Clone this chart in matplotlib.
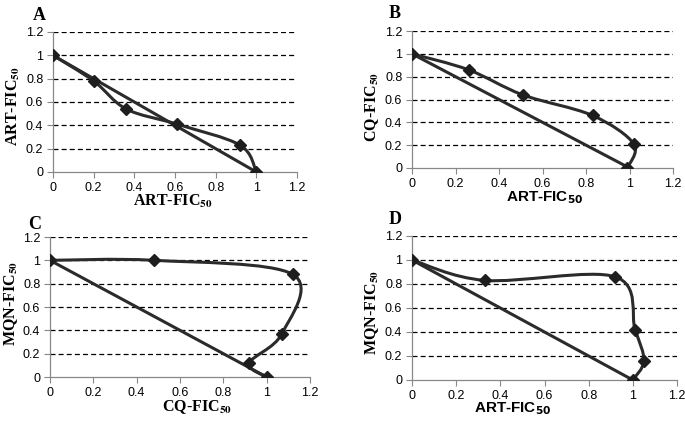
import matplotlib
matplotlib.use("Agg")
import matplotlib.pyplot as plt
import numpy as np
from matplotlib.path import Path
from matplotlib.patches import PathPatch

# isobologram data
a_x = [0, 0.2, 0.36, 0.61, 0.92, 1.0]
a_y = [1, 0.78, 0.54, 0.41, 0.23, 0.0]
b_x = [0, 0.26, 0.51, 0.83, 1.02, 0.99]
b_y = [1, 0.86, 0.64, 0.46, 0.21, 0.0]
c_x = [0, 0.48, 1.12, 1.07, 0.92, 1.0]
c_y = [1, 1.0, 0.88, 0.37, 0.12, 0.0]
d_x = [0, 0.33, 0.92, 1.01, 1.05, 1.0]
d_y = [1, 0.83, 0.86, 0.42, 0.16, 0.0]
additive_x = [0, 1]
additive_y = [1, 0]
ticks = [0, 0.2, 0.4, 0.6, 0.8, 1, 1.2]
tick_labels = ["0", "0.2", "0.4", "0.6", "0.8", "1", "1.2"]

W, H = 685, 422
LINE = "#2b2b2b"


def box(l, r, t, b):
    return [l / W, 1 - b / H, (r - l) / W, (b - t) / H]


def smooth_path(xs, ys):
    # Excel-style smoothed line: cubic Bezier through each point
    p = np.column_stack([xs, ys]).astype(float)
    n = len(p)
    verts = [p[0]]
    codes = [Path.MOVETO]
    for i in range(n - 1):
        p0 = p[i - 1] if i > 0 else p[i]
        p3 = p[i + 2] if i + 2 < n else p[i + 1]
        c1 = p[i] + (p[i + 1] - p0) / 6
        c2 = p[i + 1] - (p3 - p[i]) / 6
        verts += [c1, c2, p[i + 1]]
        codes += [Path.CURVE4] * 3
    return Path(verts, codes)


def panel(rect, xs, ys, letter, lpos, xlabel, xpos, xsans, ylabel, ypos):
    ax = fig.add_axes(rect)
    ax.set_xlim(0, 1.2)
    ax.set_ylim(0, 1.2)
    for yv in ticks[1:]:
        ax.axhline(yv, color="black", lw=0.9, ls=(0, (4, 2.5)), zorder=1)
    ax.plot(additive_x, additive_y, color=LINE, lw=2.2, zorder=3)
    ax.add_patch(PathPatch(smooth_path(xs, ys), fill=False, ec=LINE, lw=2.2, zorder=3))
    ax.plot(xs, ys, ls="none", marker="D", ms=6, color="#1e1e1e", zorder=4)
    ax.set_xticks(ticks)
    ax.set_xticklabels(tick_labels)
    ax.set_yticks(ticks)
    ax.set_yticklabels(tick_labels)
    ax.tick_params(labelsize=9, length=4, width=0.8, color="#888888",
                   direction="out", pad=3)
    for lab in ax.get_xticklabels() + ax.get_yticklabels():
        lab.set_fontfamily("Liberation Sans")
    for s in ["top", "right"]:
        ax.spines[s].set_visible(False)
    for s in ["left", "bottom"]:
        ax.spines[s].set_color("#888888")
        ax.spines[s].set_linewidth(0.9)
    ax.set_axisbelow(False)

    fig.text(lpos[0] / W, 1 - lpos[1] / H, letter, fontsize=13, fontweight="bold",
             family="Liberation Serif", ha="center", va="center")
    if xsans:
        fig.text(xpos[0] / W, 1 - xpos[1] / H, xlabel + r"$_{\mathbf{50}}$",
                 fontsize=11, fontweight="bold", family="Liberation Sans",
                 math_fontfamily="dejavusans", ha="center", va="center")
    else:
        fig.text(xpos[0] / W, 1 - xpos[1] / H, xlabel + r"$_{\mathbf{50}}$",
                 fontsize=11.5, fontweight="bold", family="Liberation Serif",
                 math_fontfamily="stix", ha="center", va="center")
    fig.text(ypos[0] / W, 1 - ypos[1] / H, ylabel + r"$_{\mathbf{50}}$",
             fontsize=11.5, fontweight="bold", family="Liberation Serif",
             math_fontfamily="stix", ha="center", va="center", rotation=90)
    return ax


fig = plt.figure(figsize=(6.85, 4.22), dpi=100)

panel(box(53, 297, 32, 172), a_x, a_y, "A", (39, 15),
      "ART-FIC", (173, 201), False, "ART-FIC", (13, 106))
panel(box(412, 673, 31, 168), b_x, b_y, "B", (395, 13),
      "ART-FIC", (545, 198), True, "CQ-FIC", (372, 107))
panel(box(50, 310, 237, 377), c_x, c_y, "C", (35, 224),
      "CQ-FIC", (197, 407), False, "MQN-FIC", (11, 303))
panel(box(412, 677, 236, 380), d_x, d_y, "D", (395, 219),
      "ART-FIC", (513, 409), True, "MQN-FIC", (372, 312))

fig.savefig("out.png", dpi=100)
